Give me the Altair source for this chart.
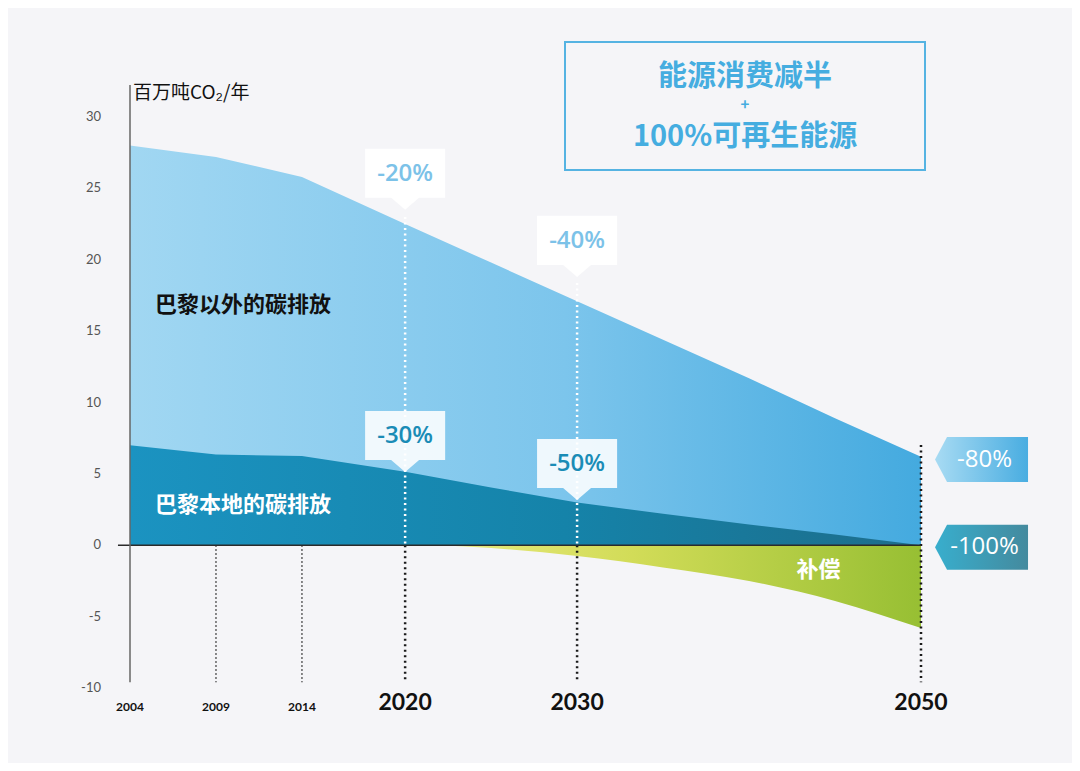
import altair as alt
import pandas as pd

# ---------------- data ----------------
years = [2004, 2009, 2014, 2020, 2025, 2030, 2035, 2040, 2045, 2050]
total_emissions = [28.0, 27.2, 25.8, 22.5, 19.8, 17.1, 14.4, 11.7, 8.9, 6.2]
local_emissions = [7.0, 6.35, 6.25, 5.15, 4.05, 3.0, 2.2, 1.45, 0.75, 0.0]
comp_years = [2022, 2025, 2030, 2035, 2040, 2045, 2050]
compensation = [0.0, -0.2, -0.75, -1.55, -2.5, -3.9, -5.8]

y_ticks = [-10, -5, 0, 5, 10, 15, 20, 25, 30]
minor_years = [2004, 2009, 2014]
major_years = [2020, 2030, 2050]

upper_callout_years = [2020, 2030]
upper_callout_tip = [23.5, 18.8]
upper_callout_text = ["-20%", "-40%"]
lower_callout_years = [2020, 2030]
lower_callout_tip = [5.13, 3.17]
lower_callout_text = ["-30%", "-50%"]

tag_text = ["-80%", "-100%"]
tag_value = [6.0, -0.14]

# ---------------- frames ----------------
df = pd.DataFrame({"year": years, "total": total_emissions, "local": local_emissions})
df["zero"] = 0.0
dcomp = pd.DataFrame({"year": comp_years, "comp": compensation})
dcomp["zero"] = 0.0

FONT = "Lato, Noto Sans CJK SC, sans-serif"
NUMFONT = "Open Sans, Lato, sans-serif"
CJK = "Noto Sans CJK SC, sans-serif"

xs = alt.Scale(domain=[2004, 2050], nice=False, zero=False)
ys = alt.Scale(domain=[-10, 30], nice=False, zero=False)


def X(f):
    return alt.X(f, type="quantitative", scale=xs, axis=None)


def Y(f):
    return alt.Y(f, type="quantitative", scale=ys, axis=None)


def grad(stops):
    return {"gradient": "linear", "x1": 0, "x2": 1, "y1": 0, "y2": 0,
            "stops": [{"offset": o, "color": c} for o, c in stops]}


outer = alt.Chart(df).mark_area(
    color=grad([(0, "#a1d7f2"), (0.55, "#7cc5ec"), (1, "#44aadf")])
).encode(x=X("year"), y=Y("total"), y2="zero")

inner = alt.Chart(df).mark_area(
    color=grad([(0, "#1b93c1"), (0.55, "#1583a9"), (1, "#1d6d8b")])
).encode(x=X("year"), y=Y("local"), y2="zero")

comp_area = alt.Chart(dcomp).mark_area(
    color=grad([(0, "#e8e97e"), (0.4, "#d2dc58"), (1, "#97bf33")]),
    interpolate="monotone",
).encode(x=X("year"), y=Y("comp"), y2="zero")

# zero line & y axis line
zero_line = alt.Chart(pd.DataFrame({"a": [2003.3], "b": [2050], "v": [0]})).mark_rule(
    color="#2b2b2b", strokeWidth=1.5
).encode(x=X("a"), x2="b", y=Y("v"))

axis_line = alt.Chart(pd.DataFrame({"a": [2004], "top": [32.25], "bot": [-9.6]})).mark_rule(
    color="#666666", strokeWidth=1.5
).encode(x=X("a"), y=Y("top"), y2="bot")

# dotted guides
white_guides = alt.Chart(pd.DataFrame({"year": [2020, 2030], "top": [22.99, 18.37], "bot": [0, 0]})).mark_rule(
    color="white", strokeWidth=2.5, strokeDash=[2, 3.5]
).encode(x=X("year"), y=Y("top"), y2="bot")

black_guides = alt.Chart(pd.DataFrame({"year": [2020, 2030, 2050], "top": [0, 0, 7.03], "bot": [-9.6, -9.6, -9.6]})).mark_rule(
    color="#1a1a1a", strokeWidth=2.5, strokeDash=[2, 3.5]
).encode(x=X("year"), y=Y("top"), y2="bot")

thin_guides = alt.Chart(pd.DataFrame({"year": [2009, 2014], "top": [0, 0], "bot": [-9.6, -9.6]})).mark_rule(
    color="#333333", strokeWidth=1.5, strokeDash=[1.5, 2.5]
).encode(x=X("year"), y=Y("top"), y2="bot")

# callouts
CALLOUT_PATH = "M0,0 L-0.233,-0.2 L-0.667,-0.2 L-0.667,-1.017 L0.667,-1.017 L0.667,-0.2 L0.233,-0.2 Z"
dup = pd.DataFrame({"year": upper_callout_years, "tip": upper_callout_tip, "t": upper_callout_text})
dlo = pd.DataFrame({"year": lower_callout_years, "tip": lower_callout_tip, "t": lower_callout_text})

up_box = alt.Chart(dup).mark_point(
    shape=CALLOUT_PATH, size=14400, filled=True, fill="white", opacity=1, strokeWidth=0
).encode(x=X("year"), y=Y("tip"))
up_txt = alt.Chart(dup).mark_text(
    font=NUMFONT, fontSize=24, fontWeight=600, color="#7cc2e8", dy=-36, baseline="middle", align="center"
).encode(x=X("year"), y=Y("tip"), text="t")

lo_box = alt.Chart(dlo).mark_point(
    shape=CALLOUT_PATH, size=14400, filled=True, fill="#ffffff", fillOpacity=0.88, opacity=1, strokeWidth=0
).encode(x=X("year"), y=Y("tip"))
lo_txt = alt.Chart(dlo).mark_text(
    font=NUMFONT, fontSize=24, fontWeight=600, color="#1a8cb6", dy=-36, baseline="middle", align="center"
).encode(x=X("year"), y=Y("tip"), text="t")

# right-hand tags
TAG_PATH = "M-0.93,0 L-0.69,-0.45 L0.93,-0.45 L0.93,0.45 L-0.69,0.45 Z"
dtag1 = pd.DataFrame({"x": [2053.52], "v": [tag_value[0]], "t": [tag_text[0]]})
dtag2 = pd.DataFrame({"x": [2053.52], "v": [tag_value[1]], "t": [tag_text[1]]})
tag1 = alt.Chart(dtag1).mark_point(
    shape=TAG_PATH, size=10000, filled=True, opacity=1, strokeWidth=0,
    fill=grad([(0, "#a8dbf3"), (1, "#49ade1")])
).encode(x=X("x"), y=Y("v"))
tag2 = alt.Chart(dtag2).mark_point(
    shape=TAG_PATH, size=10000, filled=True, opacity=1, strokeWidth=0,
    fill=grad([(0, "#38aecd"), (1, "#448a9e")])
).encode(x=X("x"), y=Y("v"))
tag_txt = alt.Chart(pd.concat([dtag1, dtag2])).mark_text(
    font=NUMFONT, fontSize=24, fontWeight=500, color="white", dx=3, baseline="middle", align="center"
).encode(x=X("x"), y=Y("v"), text="t")

# area labels
lab_outside = alt.Chart(pd.DataFrame({"x": [2005.45], "v": [16.84], "t": ["巴黎以外的碳排放"]})).mark_text(
    font=CJK, fontSize=22, fontWeight="bold", color="#111111", align="left", baseline="middle"
).encode(x=X("x"), y=Y("v"), text="t")
lab_local = alt.Chart(pd.DataFrame({"x": [2005.45], "v": [2.82], "t": ["巴黎本地的碳排放"]})).mark_text(
    font=CJK, fontSize=22, fontWeight="bold", color="white", align="left", baseline="middle"
).encode(x=X("x"), y=Y("v"), text="t")
lab_comp = alt.Chart(pd.DataFrame({"x": [2044.04], "v": [-1.73], "t": ["补偿"]})).mark_text(
    font=CJK, fontSize=22, fontWeight="bold", color="white", align="center", baseline="middle"
).encode(x=X("x"), y=Y("v"), text="t")

# axis labels
ytick_df = pd.DataFrame({"v": y_ticks, "x": [2004] * len(y_ticks), "t": [str(v) for v in y_ticks]})
ytick_txt = alt.Chart(ytick_df).mark_text(
    font=FONT, fontSize=13, color="#555555", align="right", baseline="middle", dx=-29
).encode(x=X("x"), y=Y("v"), text="t")

minor_df = pd.DataFrame({"year": minor_years, "v": [-10] * 3, "t": [str(y) for y in minor_years]})
minor_txt = alt.Chart(minor_df).mark_text(
    font=FONT, fontSize=12, fontWeight="bold", color="#111111", align="center", baseline="middle", dy=19
).encode(x=X("year"), y=Y("v"), text="t")

major_df = pd.DataFrame({"year": major_years, "v": [-10] * 3, "t": [str(y) for y in major_years]})
major_txt = alt.Chart(major_df).mark_text(
    font=FONT, fontSize=23, fontWeight="bold", color="#111111", align="center", baseline="middle", dy=15
).encode(x=X("year"), y=Y("v"), text="t")

unit_txt = alt.Chart(pd.DataFrame({"t": ["百万吨CO₂/年"]})).mark_text(
    font=CJK, fontSize=19, color="#111111", align="left", baseline="middle"
).encode(x=alt.value(3), y=alt.value(-24), text="t")

# headline box
title_box = alt.Chart(pd.DataFrame({"a": [0]})).mark_rect(
    fill=None, fillOpacity=0, stroke="#55b3e2", strokeWidth=2
).encode(x=alt.value(435), x2=alt.value(795), y=alt.value(-75), y2=alt.value(53))

TITLE_COLOR = "#45ade0"
title1 = alt.Chart(pd.DataFrame({"t": ["能源消费减半"]})).mark_text(
    font=CJK, fontSize=29, fontWeight="bold", color=TITLE_COLOR, align="center", baseline="middle"
).encode(x=alt.value(615), y=alt.value(-40), text="t")
title_plus = alt.Chart(pd.DataFrame({"t": ["+"]})).mark_text(
    font=CJK, fontSize=15, fontWeight="bold", color=TITLE_COLOR, align="center", baseline="middle"
).encode(x=alt.value(615), y=alt.value(-12), text="t")
title2 = alt.Chart(pd.DataFrame({"t": ["100%可再生能源"]})).mark_text(
    font=CJK, fontSize=29, fontWeight="bold", color=TITLE_COLOR, align="center", baseline="middle"
).encode(x=alt.value(615), y=alt.value(20), text="t")

chart = alt.layer(
    outer, inner, comp_area,
    white_guides, black_guides, thin_guides,
    zero_line, axis_line,
    up_box, up_txt, lo_box, lo_txt,
    tag1, tag2, tag_txt,
    lab_outside, lab_local, lab_comp,
    ytick_txt, minor_txt, major_txt, unit_txt,
    title_box, title1, title_plus, title2,
).properties(
    width=791, height=571,
    autosize=alt.AutoSizeParams(type="none"),
    padding={"left": 122, "top": 109, "right": 151, "bottom": 75},
    background="#f5f5f8",
).configure_view(stroke=None)

chart.save("out.html", embed_options={"renderer": "svg", "actions": False})
